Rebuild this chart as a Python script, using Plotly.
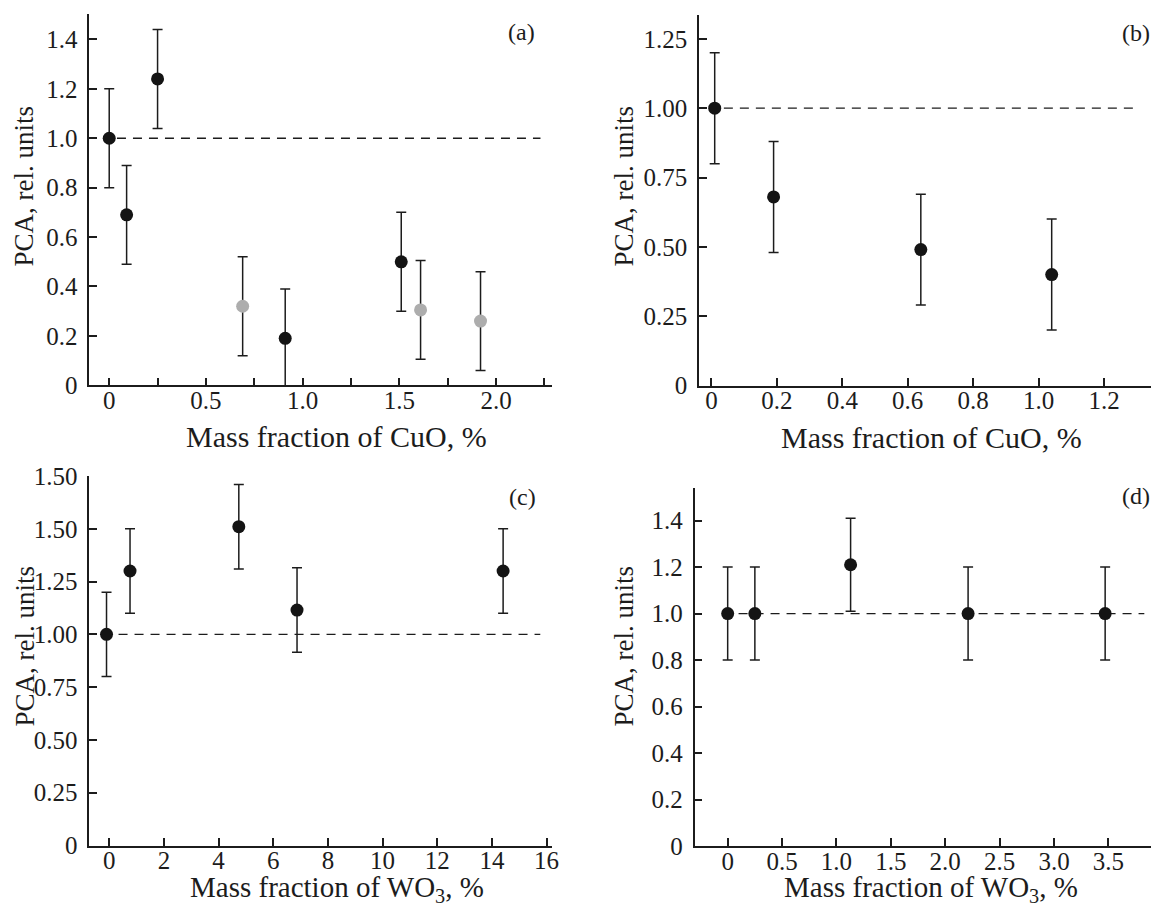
import plotly.graph_objects as go

# ---------------- data ----------------
# (a) CuO, two series (black and grey markers)
a_black_x = [0.0, 0.09, 0.25, 0.91, 1.51]
a_black_y = [1.0, 0.69, 1.24, 0.19, 0.50]
a_black_err = [0.2, 0.2, 0.2, 0.2, 0.2]
a_grey_x = [0.69, 1.61, 1.92]
a_grey_y = [0.32, 0.305, 0.26]
a_grey_err = [0.2, 0.2, 0.2]
a_ref_x = [0.04, 2.23]

# (b) CuO
b_x = [0.01, 0.19, 0.64, 1.04]
b_y = [1.0, 0.68, 0.49, 0.40]
b_err = [0.2, 0.2, 0.2, 0.2]
b_ref_x = [0.038, 1.30]

# (c) WO3
c_x = [-0.1, 0.76, 4.74, 6.87, 14.41]
c_y = [1.0, 1.30, 1.51, 1.115, 1.30]
c_err = [0.2, 0.2, 0.2, 0.2, 0.2]
c_ref_x = [0.34, 15.77]

# (d) WO3
d_x = [0.0, 0.25, 1.13, 2.21, 3.47]
d_y = [1.0, 1.0, 1.21, 1.0, 1.0]
d_err = [0.2, 0.2, 0.2, 0.2, 0.2]
d_ref_x = [0.10, 3.83]

ref_y = [1.0, 1.0]

# tick labels
a_xticks = [0, 0.5, 1.0, 1.5, 2.0]
a_xticktext = ["0", "0.5", "1.0", "1.5", "2.0"]
a_xminor = [0.25, 0.75, 1.25, 1.75, 2.25]
a_yticks = [0, 0.2, 0.4, 0.6, 0.8, 1.0, 1.2, 1.4]
a_yticktext = ["0", "0.2", "0.4", "0.6", "0.8", "1.0", "1.2", "1.4"]

b_xticks = [0, 0.2, 0.4, 0.6, 0.8, 1.0, 1.2]
b_xticktext = ["0", "0.2", "0.4", "0.6", "0.8", "1.0", "1.2"]
b_yticks = [0, 0.25, 0.5, 0.75, 1.0, 1.25]
b_yticktext = ["0", "0.25", "0.50", "0.75", "1.00", "1.25"]

c_xticks = [0, 2, 4, 6, 8, 10, 12, 14, 16]
c_xticktext = ["0", "2", "4", "6", "8", "10", "12", "14", "16"]
c_yticks = [0, 0.25, 0.5, 0.75, 1.0, 1.25, 1.5, 1.75]
c_yticktext = ["0", "0.25", "0.50", "0.75", "1.00", "1.25", "1.50", "1.50"]

d_xticks = [0, 0.5, 1.0, 1.5, 2.0, 2.5, 3.0, 3.5]
d_xticktext = ["0", "0.5", "1.0", "1.5", "2.0", "2.5", "3.0", "3.5"]
d_yticks = [0, 0.2, 0.4, 0.6, 0.8, 1.0, 1.2, 1.4]
d_yticktext = ["0", "0.2", "0.4", "0.6", "0.8", "1.0", "1.2", "1.4"]

# ---------------- style ----------------
PAGE_OFF = 8                     # default body margin of the html page
W, H = 1159 - PAGE_OFF, 916 - PAGE_OFF
FONT = "Liberation Serif"
INK = "#1c1c1c"
BLACK = "#141414"
GREY = "#adadad"
MSIZE = 13


def px_x(p):
    return (p - PAGE_OFF) / W


def px_y(p):
    return 1 - (p - PAGE_OFF) / H


fig = go.Figure()


def add_points(x, y, err, color, xa, ya):
    fig.add_trace(go.Scatter(
        x=x, y=y, mode="markers", xaxis=xa, yaxis=ya, showlegend=False,
        marker=dict(size=MSIZE, color=color, line=dict(width=0)),
        error_y=dict(type="data", array=err, visible=True, thickness=1.5,
                     width=5, color=INK),
    ))


def add_ref(x, xa, ya):
    fig.add_trace(go.Scatter(
        x=x, y=ref_y, mode="lines", xaxis=xa, yaxis=ya, showlegend=False,
        line=dict(color=INK, width=1.3, dash="9px,7px"),
    ))


add_ref(a_ref_x, "x", "y")
add_points(a_black_x, a_black_y, a_black_err, BLACK, "x", "y")
add_points(a_grey_x, a_grey_y, a_grey_err, GREY, "x", "y")

add_ref(b_ref_x, "x2", "y2")
add_points(b_x, b_y, b_err, BLACK, "x2", "y2")

add_ref(c_ref_x, "x3", "y3")
add_points(c_x, c_y, c_err, BLACK, "x3", "y3")

add_ref(d_ref_x, "x4", "y4")
add_points(d_x, d_y, d_err, BLACK, "x4", "y4")

tickfont = dict(family=FONT, size=25, color=INK)
common = dict(showgrid=False, zeroline=False, showline=True, linecolor=INK,
              linewidth=1.5, ticks="inside", ticklen=8, tickwidth=1.5,
              tickcolor=INK, tickfont=tickfont, tickmode="array",
              automargin=False)

# pixel geometry of each panel in the page: (left, right), (top, bottom)
panels = {
    "1": dict(xd=(89.3, 551.7), yd=(14, 385.3), xr=[-0.103, 2.288], yr=[0, 1.503],
              xt=(a_xticks, a_xticktext), yt=(a_yticks, a_yticktext)),
    "2": dict(xd=(699, 1159), yd=(15, 385.5), xr=[-0.038, 1.368], yr=[0, 1.336],
              xt=(b_xticks, b_xticktext), yt=(b_yticks, b_yticktext)),
    "3": dict(xd=(89.3, 551.5), yd=(476, 845.5), xr=[-0.73, 16.18], yr=[0, 1.75],
              xt=(c_xticks, c_xticktext), yt=(c_yticks, c_yticktext)),
    "4": dict(xd=(694.5, 1159), yd=(488.3, 846), xr=[-0.305, 3.965], yr=[0, 1.539],
              xt=(d_xticks, d_xticktext), yt=(d_yticks, d_yticktext)),
}

layout = {}
for k, p in panels.items():
    sx = "" if k == "1" else k
    xname = "xaxis" + sx
    yname = "yaxis" + sx
    xa = dict(common, domain=[px_x(p["xd"][0]), min(1.0, px_x(p["xd"][1]))],
              range=p["xr"], tickvals=p["xt"][0], ticktext=p["xt"][1],
              anchor="y" + sx, ticklabelstandoff=-8)
    ya = dict(common, domain=[px_y(p["yd"][1]), px_y(p["yd"][0])], range=p["yr"],
              tickvals=p["yt"][0], ticktext=p["yt"][1],
              anchor="x" + sx, ticklabelstandoff=5)
    if k == "1":
        xa["minor"] = dict(tickvals=a_xminor, ticks="inside", ticklen=8,
                           tickwidth=1.5, tickcolor=INK)
    layout[xname] = xa
    layout[yname] = ya

fig.update_layout(**layout)

annotations = []
# x-axis titles
for text, cx, cy, fs in [
    ("Mass fraction of CuO, %", 336, 436, 30),
    ("Mass fraction of CuO, %", 932, 437, 30),
    ("Mass fraction of WO<sub>3</sub>, %", 337, 889, 29),
    ("Mass fraction of WO<sub>3</sub>, %", 931, 889, 29),
]:
    annotations.append(dict(text=text, x=px_x(cx), y=px_y(cy), xref="paper",
                            yref="paper", xanchor="center", yanchor="middle",
                            showarrow=False,
                            font=dict(family=FONT, size=fs, color=INK)))
# y-axis titles
ytitle_font = dict(family=FONT, size=27, color=INK)
for cx, cy in [(23, 186.5), (623, 186.5), (24, 646.5), (623, 646.5)]:
    annotations.append(dict(text="PCA, rel. units", x=px_x(cx), y=px_y(cy),
                            xref="paper", yref="paper", xanchor="center",
                            yanchor="middle", textangle=-90, showarrow=False,
                            font=ytitle_font))
# panel labels
lab_font = dict(family=FONT, size=24, color=INK)
for text, cx, cy in [("(a)", 521, 32), ("(b)", 1136, 33), ("(c)", 522, 497),
                     ("(d)", 1136, 496)]:
    annotations.append(dict(text=text, x=px_x(cx), y=px_y(cy), xref="paper",
                            yref="paper", xanchor="center", yanchor="middle",
                            showarrow=False, font=lab_font))

fig.update_layout(
    width=W, height=H, margin=dict(l=0, r=0, t=0, b=0, autoexpand=False),
    paper_bgcolor="white", plot_bgcolor="white",
    annotations=annotations, showlegend=False,
    font=dict(family=FONT, color=INK),
)

fig.write_html("out.html")
